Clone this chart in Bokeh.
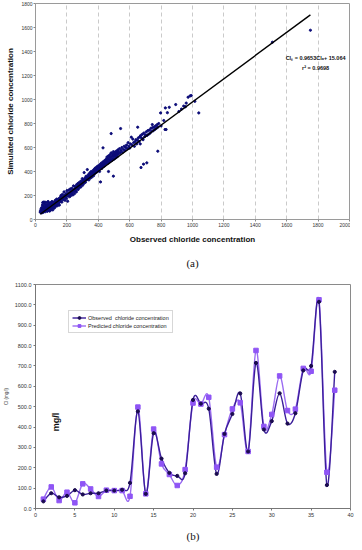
import numpy as np
from bokeh.plotting import figure
from bokeh.models import Label, Legend, LegendItem, FixedTicker, Range1d, NumeralTickFormatter, LinearAxis
from bokeh.layouts import column
from bokeh.embed import file_html
from bokeh.resources import INLINE

# ---------------- data (a): observed vs simulated chloride ----------------
obs_a = [30, 32, 35, 36, 38, 40, 40, 42, 44, 45, 46, 47, 48, 50, 50, 52, 53, 55, 56, 58,
         60, 60, 62, 63, 65, 66, 68, 70, 70, 72, 74, 75, 76, 78, 80, 80, 82, 84, 85, 86,
         88, 90, 90, 92, 94, 95, 96, 98, 100, 100, 102, 104, 105, 106, 108, 110, 110, 112, 114, 115,
         118, 120, 120, 122, 124, 126, 128, 130, 132, 134, 135, 138, 140, 140, 142, 145, 148, 150, 150, 152,
         155, 158, 160, 162, 165, 168, 170, 172, 175, 178, 180, 182, 185, 188, 190, 192, 195, 198, 200, 200,
         205, 208, 210, 212, 215, 218, 220, 222, 225, 228, 230, 232, 235, 238, 240, 242, 245, 248, 250, 252,
         255, 258, 260, 262, 265, 268, 270, 272, 275, 278, 280, 282, 285, 288, 290, 292, 295, 298, 300, 302,
         305, 308, 310, 312, 315, 318, 320, 322, 325, 328, 330, 332, 335, 338, 340, 342, 345, 348, 350, 352,
         355, 358, 360, 362, 365, 368, 370, 372, 375, 378, 380, 382, 385, 388, 390, 392, 395, 398, 400, 402,
         405, 408, 410, 412, 414, 415, 418, 420, 422, 425, 428, 430, 430, 432, 435, 438, 440, 442, 445, 448,
         450, 452, 455, 458, 460, 462, 465, 465, 468, 470, 472, 475, 478, 480, 482, 482, 485, 488, 490, 492,
         494, 496, 496, 498, 500, 502, 505, 508, 510, 512, 515, 518, 520, 522, 525, 528, 530, 535, 540, 542,
         545, 550, 555, 560, 565, 570, 575, 580, 585, 590, 595, 600, 605, 610, 615, 620, 625, 630, 635, 640,
         645, 650, 651, 655, 660, 665, 667, 670, 672, 675, 680, 685, 688, 690, 695, 700, 705, 709, 710, 715,
         720, 725, 730, 735, 740, 744, 745, 750, 755, 760, 765, 770, 775, 779, 780, 785, 797, 800, 817, 825,
         827, 832, 840, 852, 893, 913, 930, 944, 955, 960, 972, 985, 992, 1015, 1040, 1509, 1751]
sim_a = [62, 75, 58, 90, 68, 100, 55, 80, 120, 65, 140, 72, 95, 60, 145, 85, 110, 70, 130, 78,
         92, 145, 65, 105, 82, 120, 75, 95, 140, 88, 110, 68, 125, 90, 100, 150, 78, 115, 95, 135,
         85, 105, 70, 120, 92, 140, 110, 80, 100, 125, 115, 90, 150, 130, 105, 118, 80, 140, 100, 125,
         112, 135, 95, 150, 120, 160, 108, 130, 145, 118, 170, 135, 150, 115, 165, 130, 155, 140, 175, 120,
         160, 185, 150, 200, 170, 145, 185, 210, 165, 190, 178, 230, 195, 160, 205, 185, 215, 175, 200, 240,
         152, 220, 195, 245, 210, 190, 225, 255, 200, 235, 215, 260, 230, 205, 245, 280, 235, 215, 255, 275,
         240, 265, 230, 290, 255, 275, 300, 250, 285, 265, 310, 280, 300, 270, 320, 290, 305, 340, 285, 315,
         330, 300, 391, 325, 345, 310, 335, 360, 330, 350, 416, 340, 370, 355, 330, 380, 360, 390, 345, 370,
         400, 375, 355, 395, 380, 410, 365, 390, 420, 400, 385, 430, 405, 420, 395, 440, 415, 430, 410, 450,
         425, 400, 440, 460, 313, 430, 445, 470, 425, 455, 440, 597, 480, 460, 470, 445, 490, 460, 480, 500,
         465, 495, 520, 480, 505, 470, 400, 530, 495, 515, 480, 540, 500, 520, 716, 555, 490, 530, 510, 545,
         500, 361, 565, 525, 540, 505, 560, 530, 550, 515, 570, 540, 555, 525, 580, 545, 565, 590, 555, 758,
         575, 600, 560, 585, 610, 575, 600, 620, 590, 640, 610, 595, 630, 686, 620, 670, 640, 610, 650, 665,
         630, 660, 769, 680, 650, 690, 630, 700, 433, 680, 710, 665, 461, 720, 690, 705, 730, 472, 700, 740,
         710, 745, 720, 760, 735, 791, 765, 740, 770, 750, 780, 760, 790, 569, 770, 800, 888, 780, 825, 750,
         930, 750, 890, 935, 958, 900, 920, 945, 940, 970, 1019, 1030, 1033, 985, 888, 1477, 1577]
slope_a = 0.9653
intercept_a = 15.064
r2_a = 0.9698
x_ticks_a = list(range(0, 2001, 200))
y_ticks_a = list(range(0, 1801, 200))

# ---------------- data (b): observed vs predicted per sample ----------------
sample_b = list(range(1, 39))
observed_b = [35, 75, 55, 62, 90, 69, 75, 75, 88, 88, 92, 126, 477, 72, 370, 245, 175, 160, 173, 533,
              515, 490, 170, 366, 464, 565, 280, 715, 388, 429, 566, 417, 468, 678, 700, 1015, 115, 671]
predicted_b = [46, 106, 39, 80, 28, 121, 96, 59, 90, 88, 88, 60, 498, 72, 390, 219, 167, 113, 191, 518,
               513, 546, 203, 363, 489, 519, 280, 776, 403, 462, 651, 481, 488, 688, 674, 1025, 178, 581]
x_ticks_b = list(range(0, 41, 5))
y_ticks_b = list(range(0, 1101, 100))

SANS = "Liberation Sans"
SERIF = "Liberation Serif"


def caption_axis(text, standoff):
    ax = LinearAxis(axis_label=text, ticker=FixedTicker(ticks=[]), axis_line_color=None,
                    major_tick_line_color=None, minor_tick_line_color=None,
                    major_label_text_font_size="0px", major_label_standoff=0,
                    major_tick_out=0, major_tick_in=0)
    ax.axis_label_text_font = SERIF
    ax.axis_label_text_font_size = "11px"
    ax.axis_label_text_font_style = "normal"
    ax.axis_label_text_color = "#111111"
    ax.axis_label_standoff = standoff
    return ax


# ================= figure (a) =================
FW1, FH1 = 314, 216
p1 = figure(frame_width=FW1, frame_height=FH1, x_range=Range1d(0, 2000), y_range=Range1d(0, 1800),
            output_backend="svg", toolbar_location=None,
            min_border_left=16, min_border_right=4, min_border_top=3, min_border_bottom=10)
p1.xaxis.ticker = FixedTicker(ticks=x_ticks_a)
p1.yaxis.ticker = FixedTicker(ticks=y_ticks_a)
for ax in (p1.xaxis, p1.yaxis):
    ax.major_label_text_font = SANS
    ax.major_label_text_font_size = "5px"
    ax.major_label_text_color = "#333333"
    ax.axis_label_text_font = SANS
    ax.axis_label_text_font_size = "8px"
    ax.axis_label_text_font_style = "bold"
    ax.axis_label_text_color = "#111111"
    ax.axis_line_color = None
    ax.major_tick_line_color = "#888888"
    ax.major_tick_out = 2
    ax.major_tick_in = 0
    ax.minor_tick_line_color = None
    ax.major_label_standoff = 1
    ax.axis_label_standoff = 3
p1.xaxis.axis_label_standoff = 5
p1.xaxis.axis_label = "Observed chloride concentration"
p1.yaxis.axis_label = "Simulated chloride concentration"
p1.ygrid.grid_line_color = None
p1.xgrid.grid_line_color = "#bdbdbd"
p1.xgrid.grid_line_dash = "4 3"
p1.xgrid.grid_line_width = 0.8
p1.outline_line_color = "#9a9a9a"

p1.scatter(obs_a, sim_a, size=2.2, color="#0b0b78", line_color="#0b0b78")
fit_x = np.array([min(obs_a), max(obs_a)], dtype=float)
fit_y = slope_a * fit_x + intercept_a
p1.line(fit_x, fit_y, line_color="black", line_width=1.4)

p1.add_layout(Label(x=1784, y=1344, text=f"Clₛ = {slope_a}Clₒ+ {intercept_a}",
                    text_font=SANS, text_font_size="5.5px", text_font_style="bold",
                    text_align="center", text_baseline="middle", text_color="#111111"))
p1.add_layout(Label(x=1784, y=1262, text=f"r² = {r2_a}",
                    text_font=SANS, text_font_size="5.5px", text_font_style="bold",
                    text_align="center", text_baseline="middle", text_color="#111111"))
p1.add_layout(caption_axis("(a)", 10), "below")

# ================= figure (b) =================
FW2, FH2 = 315, 224
p2 = figure(frame_width=FW2, frame_height=FH2, x_range=Range1d(0, 40), y_range=Range1d(0, 1100),
            output_backend="svg", toolbar_location=None,
            min_border_left=26, min_border_right=4, min_border_top=13, min_border_bottom=4)
p2.xaxis.ticker = FixedTicker(ticks=x_ticks_b)
p2.yaxis.ticker = FixedTicker(ticks=y_ticks_b)
p2.yaxis.formatter = NumeralTickFormatter(format="0.0")
for ax in (p2.xaxis, p2.yaxis):
    ax.major_label_text_font = SANS
    ax.major_label_text_font_size = "5.5px"
    ax.major_label_text_color = "#333333"
    ax.axis_line_color = "#777777"
    ax.major_tick_line_color = "#777777"
    ax.major_tick_out = 2
    ax.major_tick_in = 0
    ax.minor_tick_line_color = None
    ax.major_label_standoff = 2
p2.yaxis.axis_label = "Cl (mg/l)"
p2.yaxis.axis_label_text_font = SANS
p2.yaxis.axis_label_text_font_size = "4.5px"
p2.yaxis.axis_label_text_font_style = "normal"
p2.yaxis.axis_label_standoff = 3
p2.xaxis.axis_label = "(b)"
p2.xaxis.axis_label_text_font = SERIF
p2.xaxis.axis_label_text_font_size = "11px"
p2.xaxis.axis_label_text_font_style = "normal"
p2.xaxis.axis_label_text_color = "#111111"
p2.xaxis.axis_label_standoff = 10
p2.xgrid.grid_line_color = None
p2.ygrid.grid_line_color = None
p2.outline_line_color = "#8a8a8a"


def bezier_segments(xs, ys, t=1.0 / 6.0):
    xs = np.asarray(xs, dtype=float)
    ys = np.asarray(ys, dtype=float)
    n = len(xs)
    i0 = np.arange(n - 1)
    i1 = i0 + 1
    ip = np.clip(i0 - 1, 0, n - 1)
    inn = np.clip(i0 + 2, 0, n - 1)
    return dict(x0=xs[i0], y0=ys[i0], x1=xs[i1], y1=ys[i1],
                cx0=xs[i0] + (xs[i1] - xs[ip]) * t, cy0=ys[i0] + (ys[i1] - ys[ip]) * t,
                cx1=xs[i1] - (xs[inn] - xs[i0]) * t, cy1=ys[i1] - (ys[inn] - ys[i0]) * t)


OBS_LINE = "#3b1e9a"
OBS_MARK = "#1a0b4f"
PRED_LINE = "#9b6cf2"
PRED_MARK = "#8f55f5"

r_pl = p2.bezier(line_color=PRED_LINE, line_width=1.4, **bezier_segments(sample_b, predicted_b))
r_ol = p2.bezier(line_color=OBS_LINE, line_width=1.4, **bezier_segments(sample_b, observed_b))
r_pm = p2.scatter(sample_b, predicted_b, marker="square", size=4.5, color=PRED_MARK)
r_om = p2.scatter(sample_b, observed_b, marker="circle", size=3.2, color=OBS_MARK)

legend = Legend(items=[LegendItem(label="Observed  chloride concentration", renderers=[r_ol, r_om]),
                       LegendItem(label="Predicted chloride concentration", renderers=[r_pl, r_pm])],
                location=(33, 175), label_text_font=SANS, label_text_font_size="5.5px",
                label_text_color="#222222", glyph_width=14, glyph_height=7, label_height=7,
                label_standoff=2, spacing=1, padding=3, margin=0,
                border_line_color="#b0b0b0", background_fill_color="white")
p2.add_layout(legend)

p2.add_layout(Label(x=2.54, y=425, text="mg/l", angle=np.pi / 2, text_font=SANS,
                    text_font_size="9px", text_font_style="bold", text_align="center",
                    text_baseline="middle", text_color="#111111"))

layout = column(p1, p2, spacing=0)
open("out.html", "w").write(file_html(layout, INLINE))
